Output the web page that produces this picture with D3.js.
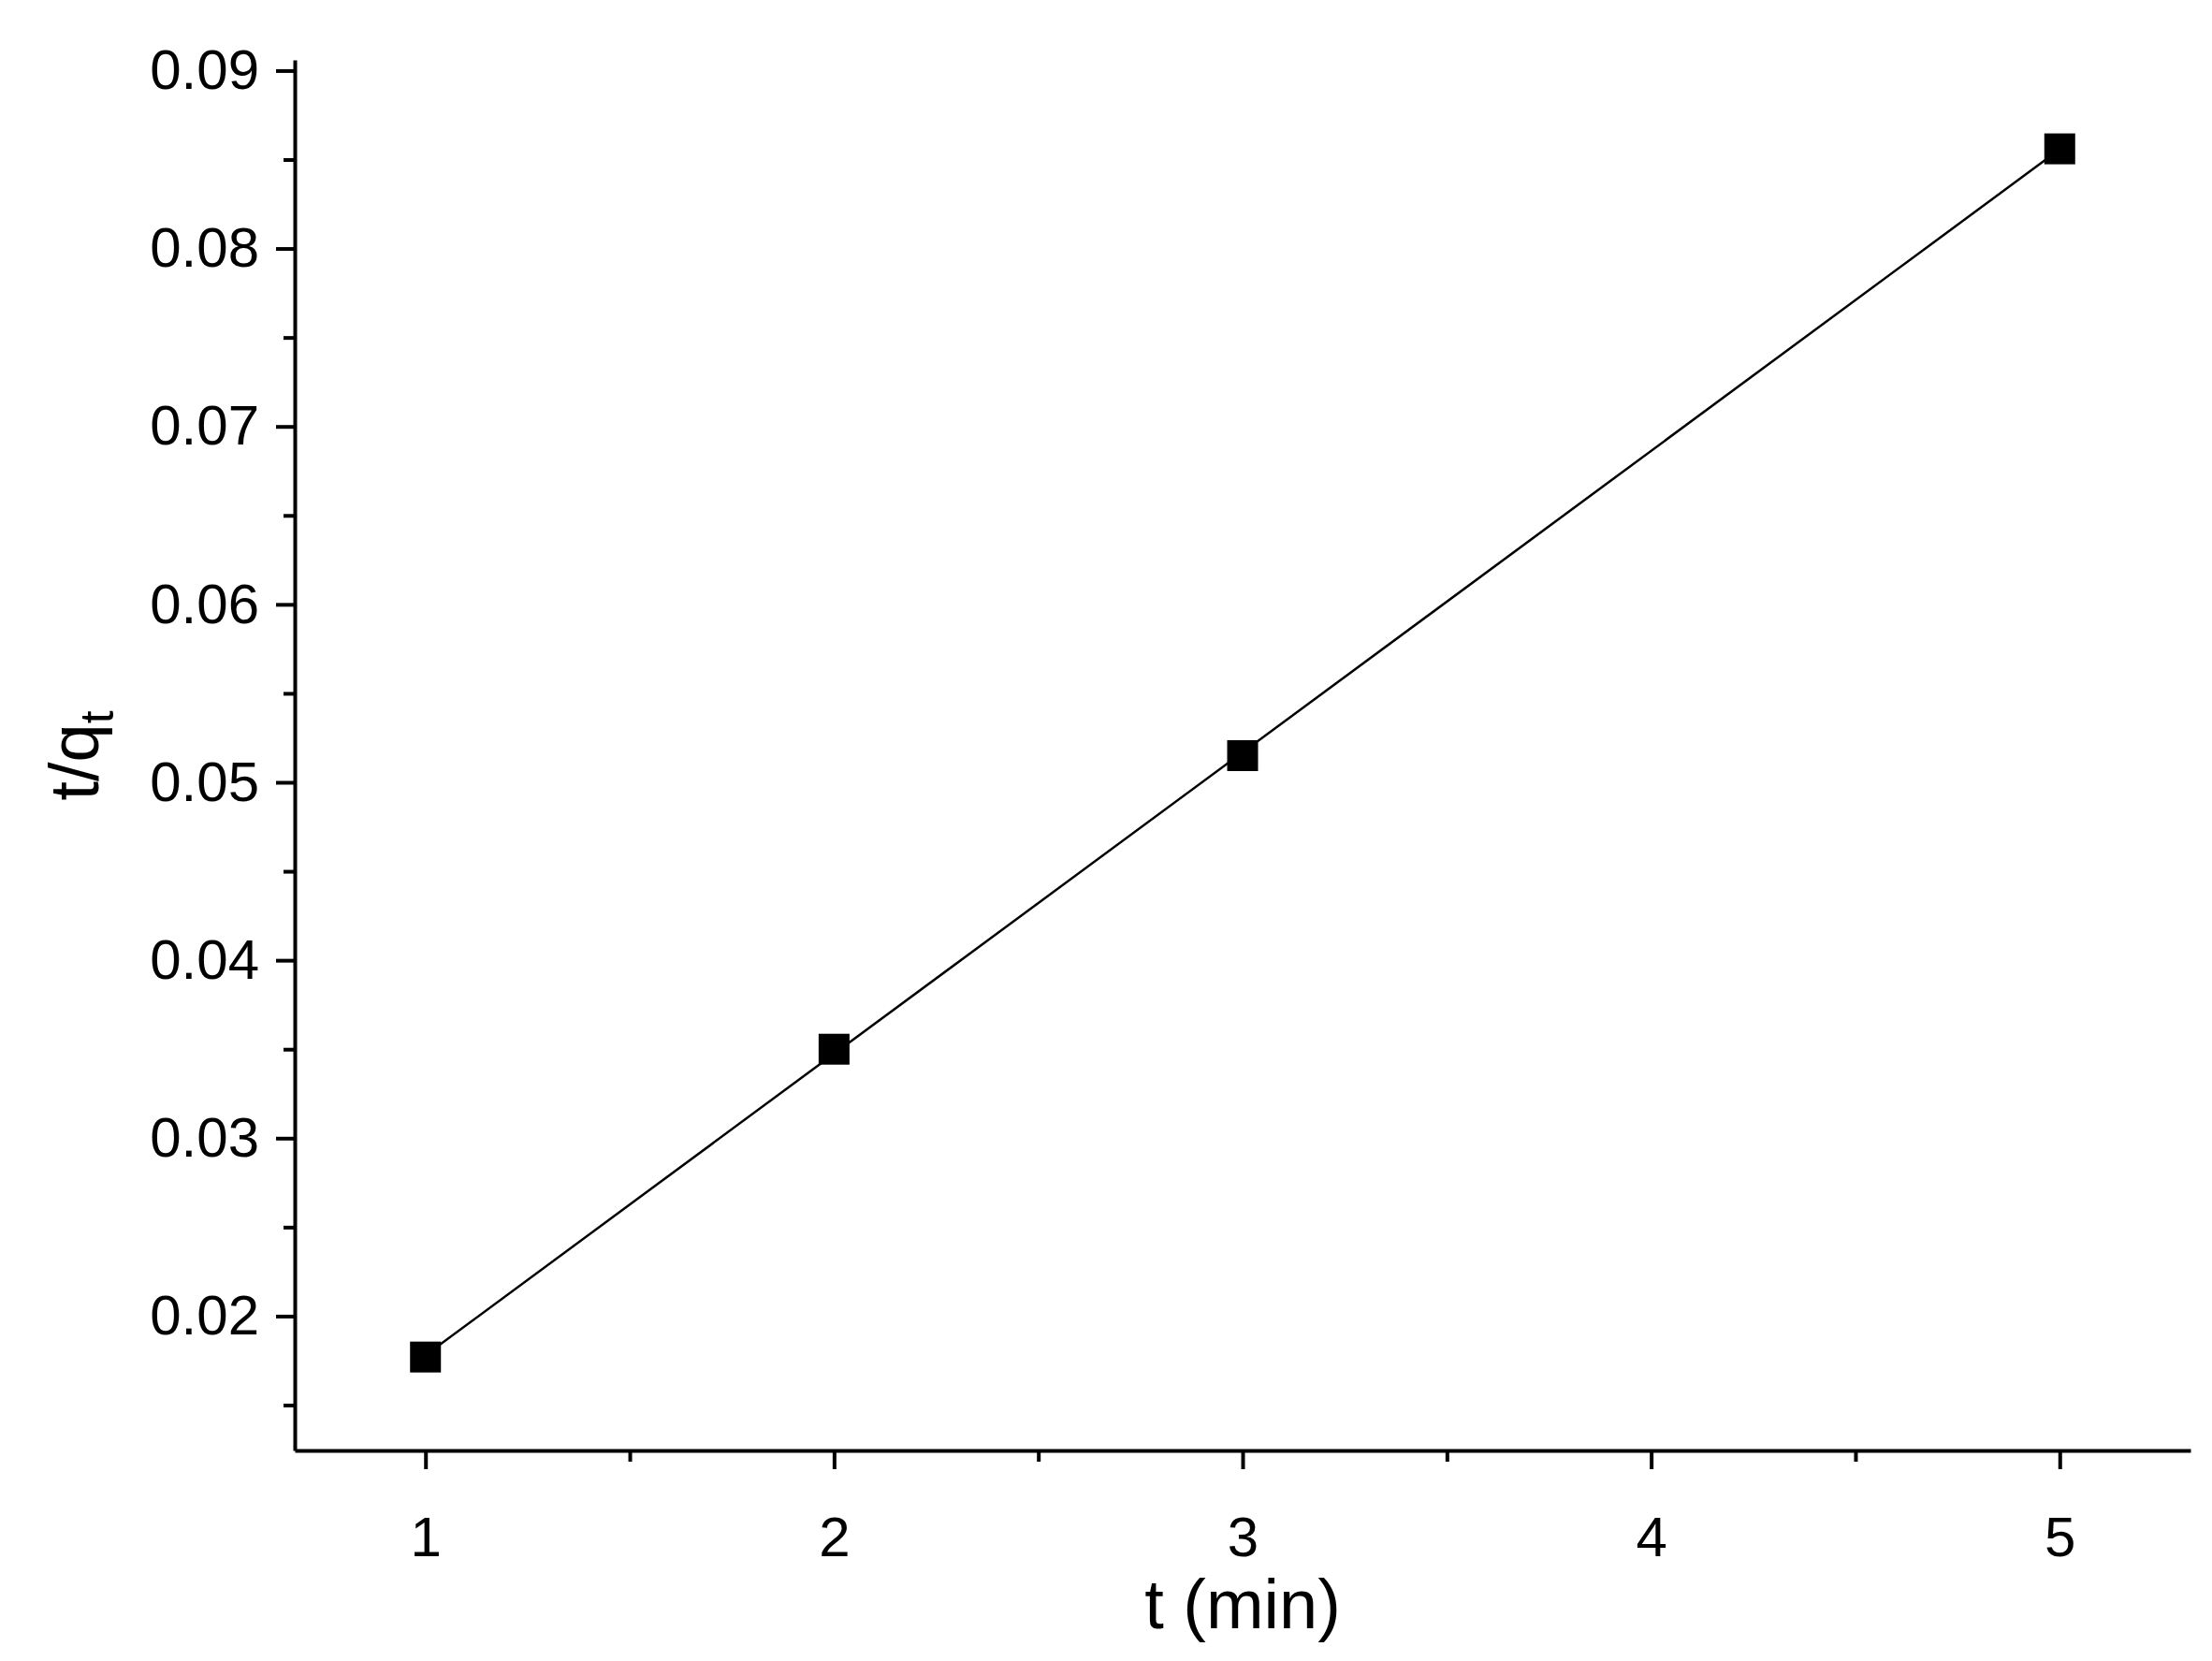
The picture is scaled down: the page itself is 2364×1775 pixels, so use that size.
<!DOCTYPE html>
<html><head><meta charset="utf-8">
<script src="https://cdn.jsdelivr.net/npm/d3@7"></script>
<style>body{margin:0;background:#fff}text{font-family:Arial,"Liberation Sans",sans-serif}</style>
</head><body><svg id="chart" width="2364" height="1775"></svg>
<script>
const tValues = [1, 2, 3, 5];
const tqValues = [0.0177, 0.035, 0.0515, 0.0856];
const xTicks = [1, 2, 3, 4, 5];
const yTicks = [0.02, 0.03, 0.04, 0.05, 0.06, 0.07, 0.08, 0.09];

const svg = d3.select('#chart');
const mLeft = 315, mRight = 2341, mTop = 64, mBottom = 1550;

const x = d3.scaleLinear().domain([0.68, 5.32]).range([mLeft, mRight]);
const y = d3.scaleLinear().domain([0.01245, 0.0906]).range([mBottom, mTop]);

// linear fit line
const mx = d3.mean(tValues), my = d3.mean(tqValues);
const slope = d3.sum(tValues, (v, i) => (v - mx) * (tqValues[i] - my)) / d3.sum(tValues, v => (v - mx) ** 2);
const icpt = my - slope * mx;
svg.append('line')
  .attr('x1', x(1)).attr('y1', y(icpt + slope))
  .attr('x2', x(5)).attr('y2', y(icpt + 5 * slope))
  .attr('stroke', '#000').attr('stroke-width', 2.5);

const s = 33;
svg.selectAll('rect.pt').data(tValues).enter().append('rect')
  .attr('x', d => x(d) - s / 2).attr('y', (d, i) => y(tqValues[i]) - s / 2)
  .attr('width', s).attr('height', s).attr('fill', '#000');

// x axis
const xa = svg.append('g').attr('transform', `translate(0,${mBottom})`)
  .call(d3.axisBottom(x).tickValues(xTicks).tickFormat(d3.format('d')).tickSize(20).tickSizeOuter(0));
xa.append('g').call(d3.axisBottom(x).tickValues([1.5, 2.5, 3.5, 4.5]).tickFormat('').tickSize(12).tickSizeOuter(0))
  .select('.domain').remove();
xa.selectAll('text').attr('font-size', 60).attr('dy', '1.5em').attr('fill', '#000').style('font-family', 'Arial,"Liberation Sans"');

// y axis
const ya = svg.append('g').attr('transform', `translate(${mLeft},0)`)
  .call(d3.axisLeft(y).tickValues(yTicks).tickFormat(d3.format('.2f')).tickSize(20).tickSizeOuter(0));
ya.append('g').call(d3.axisLeft(y).tickValues([0.015, 0.025, 0.035, 0.045, 0.055, 0.065, 0.075, 0.085]).tickFormat('').tickSize(12).tickSizeOuter(0))
  .select('.domain').remove();
ya.selectAll('text').attr('font-size', 60).attr('dx', '-0.25em').attr('fill', '#000').style('font-family', 'Arial,"Liberation Sans"');

svg.selectAll('.domain, .tick line').attr('stroke', '#000').attr('stroke-width', 4);

svg.append('text').attr('x', x(3)).attr('y', 1740).attr('text-anchor', 'middle')
  .attr('font-size', 74).text('t (min)');
const yl = svg.append('text').attr('transform', `translate(105,${y(0.0515)}) rotate(-90)`)
  .attr('text-anchor', 'middle').attr('font-size', 74);
yl.append('tspan').text('t/q');
yl.append('tspan').attr('font-size', 50).attr('dy', 16).text('t');
</script></body></html>
